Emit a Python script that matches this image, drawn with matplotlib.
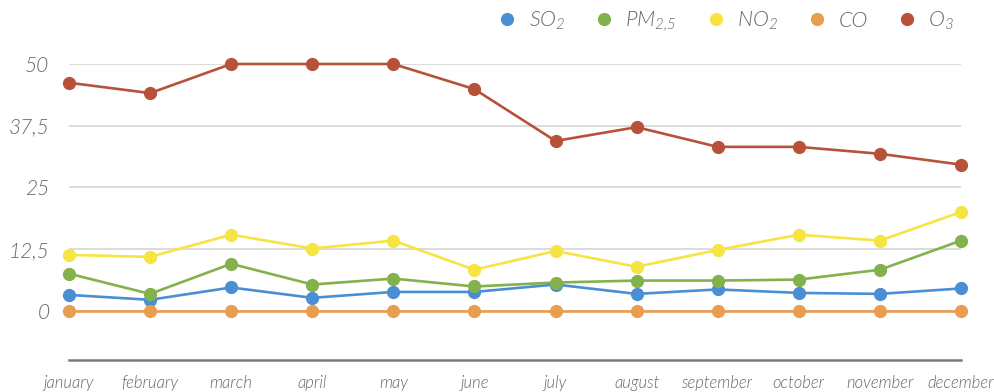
import matplotlib
matplotlib.use('Agg')
import matplotlib.pyplot as plt
from matplotlib.lines import Line2D

plt.rcParams['font.family'] = ['Lato', 'DejaVu Sans']
plt.rcParams['font.style'] = 'italic'
plt.rcParams['font.weight'] = 300
plt.rcParams['mathtext.fontset'] = 'custom'
plt.rcParams['mathtext.rm'] = 'Lato:italic:weight=300'
plt.rcParams['mathtext.it'] = 'Lato:italic:weight=300'

months = ['january', 'february', 'march', 'april', 'may', 'june', 'july',
          'august', 'september', 'october', 'november', 'december']

so2 = [3.2, 2.2, 4.7, 2.6, 3.8, 3.8, 5.3, 3.4, 4.3, 3.6, 3.4, 4.5]
pm25 = [7.5, 3.4, 9.5, 5.3, 6.5, 4.9, 5.7, 6.1, 6.1, 6.3, 8.3, 14.2]
no2 = [11.3, 10.9, 15.4, 12.6, 14.2, 8.3, 12.1, 8.9, 12.3, 15.4, 14.2, 20.0]
co = [0, 0, 0, 0, 0, 0, 0, 0, 0, 0, 0, 0]
o3 = [46.2, 44.1, 50, 50, 50, 44.9, 34.4, 37.2, 33.2, 33.2, 31.8, 29.6]

yticks = [0, 12.5, 25, 37.5, 50]
ytick_labels = ['0', '12,5', '25', '37,5', '50']

series = [
    ('SO$_2$', so2, '#4a8ed4'),
    ('PM$_{2{,}5}$', pm25, '#83b14c'),
    ('NO$_2$', no2, '#f6e442'),
    ('CO', co, '#e99d4f'),
    ('O$_3$', o3, '#b8513a'),
]

text_col = '#666666'

fig = plt.figure(figsize=(9.95, 3.92), dpi=100)
ax = fig.add_axes([69 / 995, 32 / 392, 892 / 995, 296 / 392])

x = list(range(len(months)))
for name, vals, col in series:
    ax.plot(x, vals, color=col, lw=1.9, marker='o', markersize=8.5,
            clip_on=False, zorder=3)

ax.set_xlim(0, 11)
ax.set_ylim(-10, 50)
ax.set_yticks(yticks)
ax.set_yticklabels(ytick_labels)
ax.set_xticks(x)
ax.set_xticklabels(months)

for y in yticks:
    ax.axhline(y, color='#d9d9d9', lw=1.3, zorder=1)

for s in ['top', 'right', 'left']:
    ax.spines[s].set_visible(False)
ax.spines['bottom'].set_color('#7a7a7a')
ax.spines['bottom'].set_linewidth(1.8)

ax.tick_params(axis='y', length=0, pad=14, labelsize=15, labelcolor=text_col)
ax.tick_params(axis='x', length=0, pad=11, labelsize=12, labelcolor=text_col)

handles = [Line2D([], [], ls='none', marker='o', markersize=8.5, color=c)
           for _, _, c in series]
labels = [n for n, _, _ in series]
fig.legend(handles, labels, loc='upper right', bbox_to_anchor=(0.978, 1.025),
           ncol=5, frameon=False, fontsize=15.5, labelcolor=text_col,
           handlelength=0.8, handletextpad=0.6, columnspacing=1.4)

fig.savefig('out.png', dpi=100)
